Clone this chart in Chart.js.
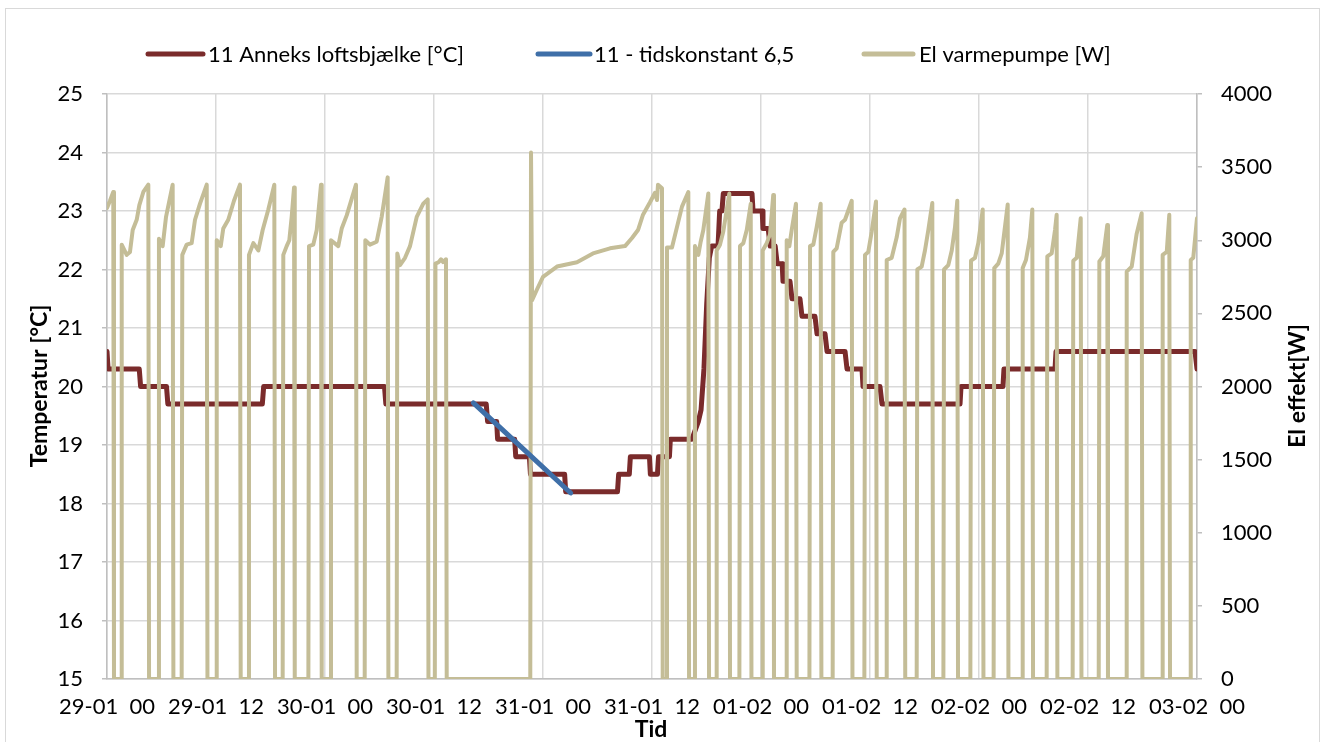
<!DOCTYPE html>
<html>
<head>
<meta charset="utf-8">
<script src="https://cdn.jsdelivr.net/npm/chart.js@4.4.1/dist/chart.umd.min.js"></script>
<style>
  html, body { margin: 0; padding: 0; background: #ffffff; }
  #wrap { position: relative; width: 1327px; height: 742px; overflow: hidden; background: #ffffff; }
  #frame { position: absolute; left: 5px; top: 8px; width: 1315px; height: 780px;
           border: 1.5px solid #d9d9d9; box-sizing: border-box; }
  #c { position: absolute; left: 0; top: 0; }
</style>
</head>
<body>
<div id="wrap">
  <div id="frame"></div>
  <canvas id="c" width="1327" height="742"></canvas>
</div>
<script>
// x axis: hours since 29-01 00:00, one labelled tick every 12 hours
const tickLabels = ["29-01  00", "29-01  12", "30-01  00", "30-01  12", "31-01  00",
                    "31-01  12", "01-02  00", "01-02  12", "02-02  00", "02-02  12", "03-02  00"];

// 11 Anneks loftsbjælke [°C]
const tempHours = [0, 0.12, 3.55, 3.70, 6.55, 6.70, 17.10, 17.25, 30.55, 30.70,
  41.75, 41.90, 42.90, 43.00, 44.88, 45.00, 46.50, 46.62, 50.38, 50.50,
  56.20, 56.33, 57.50, 57.62, 59.72, 59.82, 60.60, 60.72, 61.92, 62.02,
  64.40, 65.10, 65.40, 65.72, 66.02, 66.31, 66.57, 67.27, 67.45, 67.70,
  67.85, 71.01, 71.12, 72.13, 72.22, 72.79, 73.01, 73.56, 73.78, 74.33,
  74.42, 75.19, 75.41, 76.29, 76.51, 77.94, 78.17, 79.05, 79.27, 81.25,
  81.47, 83.12, 83.23, 85.10, 85.32, 93.91, 94.02, 98.64, 98.75, 104.37,
  104.48, 119.78, 120.0];
const tempValues = [20.6, 20.3, 20.3, 20.0, 20.0, 19.7, 19.7, 20.0, 20.0, 19.7,
  19.7, 19.4, 19.4, 19.1, 19.1, 18.8, 18.8, 18.5, 18.5, 18.2,
  18.2, 18.5, 18.5, 18.8, 18.8, 18.5, 18.5, 18.8, 18.8, 19.1,
  19.1, 19.4, 19.6, 20.3, 21.4, 22.2, 22.4, 22.4, 23.0, 23.0,
  23.3, 23.3, 23.0, 23.0, 22.7, 22.7, 22.4, 22.4, 22.1, 22.1,
  21.8, 21.8, 21.5, 21.5, 21.2, 21.2, 20.9, 20.9, 20.6, 20.6,
  20.3, 20.3, 20.0, 20.0, 19.7, 19.7, 20.0, 20.0, 20.3, 20.3,
  20.6, 20.6, 20.3];

// 11 - tidskonstant 6,5 (cooling curve)
const fitHours = [40.33, 45.70, 51.05];
const fitValues = [19.72, 18.95, 18.18];

// El varmepumpe [W]
const pumpHours = [
  0.00, 0.33, 0.69, 0.77,
  1.55, 1.62, 2.17, 2.53, 2.83, 3.27, 3.56, 4.00, 4.55, 4.63,
  5.65, 5.72, 6.13, 6.50, 7.23, 7.31,
  8.22, 8.29, 8.77, 9.32, 9.69, 10.24, 10.98, 11.06,
  12.01, 12.08, 12.52, 12.80, 13.35, 13.98, 14.64, 14.72,
  15.56, 15.63, 16.11, 16.66, 17.14, 17.76, 18.42, 18.50,
  19.34, 19.41, 19.78, 20.07, 20.33, 20.59, 20.67,
  22.17, 22.24, 22.71, 23.09, 23.56, 23.64,
  24.59, 24.66, 25.46, 25.84, 26.39, 27.41, 27.49,
  28.37, 28.44, 28.95, 29.69, 30.24, 30.90, 30.98,
  31.89, 31.96, 32.26, 32.81, 33.36, 34.10, 34.82, 35.31, 35.39,
  36.09, 36.16, 36.50, 36.77, 37.00, 37.32, 37.40,
  46.60, 46.68, 46.80, 47.31, 48.00, 49.54, 51.74, 53.50, 55.38, 57.03,
  57.80, 58.46, 59.01, 59.78, 60.33, 60.55, 60.66, 61.10, 61.18,
  61.58, 61.65, 62.20, 63.30, 64.00, 64.08,
  64.66, 64.73, 65.10, 65.36, 65.65, 66.20, 66.28,
  67.05, 67.12, 67.49, 67.85, 68.51, 68.59,
  69.62, 69.69, 70.05, 70.43, 70.87, 70.95,
  72.12, 72.19, 72.63, 72.99, 73.35, 73.43,
  74.76, 74.83, 75.12, 75.38, 75.85, 75.93,
  77.33, 77.40, 77.76, 78.13, 78.57, 78.65,
  79.89, 79.96, 80.33, 80.88, 81.25, 81.99, 82.07,
  83.38, 83.45, 83.81, 84.19, 84.66, 84.74,
  85.77, 85.84, 86.39, 86.94, 87.30, 87.80, 87.88,
  89.14, 89.21, 89.69, 90.05, 90.42, 90.86, 90.94,
  92.08, 92.15, 92.62, 93.00, 93.36, 93.61, 93.69,
  95.05, 95.12, 95.56, 95.92, 96.41, 96.49,
  97.61, 97.68, 98.12, 98.50, 99.16, 99.24,
  100.74, 100.81, 101.17, 101.61, 101.87, 101.95,
  103.45, 103.52, 104.00, 104.37, 104.55, 104.63,
  106.31, 106.38, 106.76, 107.20, 107.28,
  109.18, 109.25, 109.68, 110.12, 110.20,
  112.19, 112.26, 112.81, 113.36, 113.91, 113.99,
  116.15, 116.22, 116.67, 116.95, 117.03,
  119.24, 119.31, 119.59, 120.00];
const pumpWatts = [
  3220, 3270, 3330, 0,
  0, 2970, 2900, 2920, 3070, 3140, 3240, 3330, 3380, 0,
  0, 3010, 2960, 3160, 3380, 0,
  0, 2900, 2970, 2980, 3140, 3250, 3380, 0,
  0, 3000, 2960, 3080, 3140, 3270, 3380, 0,
  0, 2900, 2980, 2930, 3070, 3210, 3380, 0,
  0, 2900, 2960, 3000, 3160, 3360, 0,
  0, 2960, 2970, 3070, 3380, 0,
  0, 3000, 2960, 3080, 3170, 3380, 0,
  0, 3000, 2970, 2990, 3160, 3430, 0,
  0, 2910, 2830, 2880, 2960, 3160, 3250, 3280, 0,
  0, 2840, 2850, 2870, 2850, 2870, 0,
  0, 3600, 2590, 2660, 2750, 2820, 2850, 2910, 2945, 2960,
  3015, 3070, 3175, 3260, 3325, 3275, 3380, 3355, 0,
  0, 2950, 2950, 3230, 3330, 0,
  0, 2960, 2900, 2990, 3070, 3320, 0,
  0, 2930, 2970, 3060, 3320, 0,
  0, 2960, 2980, 3070, 3250, 0,
  0, 2930, 2980, 3040, 3310, 0,
  0, 3000, 2960, 3070, 3250, 0,
  0, 2960, 2970, 3090, 3250, 0,
  0, 2920, 2945, 3120, 3140, 3270, 0,
  0, 2900, 2920, 3060, 3265, 0,
  0, 2865, 2880, 3020, 3150, 3210, 0,
  0, 2800, 2820, 2930, 3070, 3255, 0,
  0, 2800, 2830, 2930, 3090, 3270, 0,
  0, 2860, 2880, 2980, 3210, 0,
  0, 2810, 2840, 2910, 3245, 0,
  0, 2810, 2865, 3020, 3210, 0,
  0, 2890, 2910, 3070, 3175, 0,
  0, 2860, 2880, 3150, 0,
  0, 2855, 2890, 3105, 0,
  0, 2785, 2820, 3045, 3185, 0,
  0, 2900, 2920, 3175, 0,
  0, 2865, 2880, 3150];

const pairs = (xs, ys) => xs.map((x, i) => ({ x: x, y: ys[i] }));

const FONT = 'Lato';
const FONT_SIZE = 22;
const TITLE_SIZE = 23;
const GRID = '#d9d9d9';
const AXIS = '#bfbfbf';

// legend row and axis titles, drawn on the canvas at fixed spots
const decorations = {
  id: 'decorations',
  afterDraw(chart) {
    const ctx = chart.ctx;
    const ds = chart.data.datasets;
    const items = [
      { ds: ds[0], x0: 148, x1: 203, tx: 208 },
      { ds: ds[1], x0: 538, x1: 590, tx: 594 },
      { ds: ds[2], x0: 864, x1: 913, tx: 919 }
    ];
    ctx.save();
    ctx.font = FONT_SIZE + 'px ' + FONT;
    ctx.textBaseline = 'middle';
    ctx.textAlign = 'left';
    ctx.lineCap = 'round';
    items.forEach(it => {
      ctx.strokeStyle = it.ds.borderColor;
      ctx.lineWidth = 5;
      ctx.beginPath();
      ctx.moveTo(it.x0, 54);
      ctx.lineTo(it.x1, 54);
      ctx.stroke();
      ctx.fillStyle = '#000000';
      ctx.fillText(it.ds.label, it.tx, 55);
    });

    ctx.font = 'bold ' + TITLE_SIZE + 'px ' + FONT;
    ctx.textAlign = 'center';
    ctx.textBaseline = 'alphabetic';
    ctx.save();
    ctx.translate(47, 386);
    ctx.rotate(-Math.PI / 2);
    ctx.fillText('Temperatur [°C]', 0, 0);
    ctx.restore();
    ctx.save();
    ctx.translate(1305, 386);
    ctx.rotate(-Math.PI / 2);
    ctx.fillText('El effekt[W]', 0, 0);
    ctx.restore();
    ctx.fillText('Tid', 651, 737);
    ctx.restore();
  }
};

new Chart(document.getElementById('c'), {
  type: 'line',
  data: {
    datasets: [
      {
        label: '11 Anneks loftsbjælke [°C]',
        data: pairs(tempHours, tempValues),
        yAxisID: 'y',
        borderColor: '#7a2b2b',
        backgroundColor: '#7a2b2b',
        borderWidth: 5,
        order: 3
      },
      {
        label: '11 - tidskonstant 6,5',
        data: pairs(fitHours, fitValues),
        yAxisID: 'y',
        borderColor: '#3f6fa8',
        backgroundColor: '#3f6fa8',
        borderWidth: 5,
        order: 1
      },
      {
        label: 'El varmepumpe [W]',
        data: pairs(pumpHours, pumpWatts),
        yAxisID: 'y1',
        borderColor: '#c4bd97',
        backgroundColor: '#c4bd97',
        borderWidth: 4,
        order: 2
      }
    ]
  },
  options: {
    responsive: false,
    animation: false,
    devicePixelRatio: 1,
    layout: { padding: { top: 94, left: 0, right: 0, bottom: 0 } },
    elements: {
      point: { radius: 0, hoverRadius: 0 },
      line: { tension: 0, fill: false, borderJoinStyle: 'round', borderCapStyle: 'round' }
    },
    plugins: {
      legend: { display: false },
      tooltip: { enabled: false }
    },
    scales: {
      x: {
        type: 'linear',
        min: 0,
        max: 120,
        afterBuildTicks: (s) => { s.ticks = tickLabels.map((_, i) => ({ value: i * 12 })); },
        ticks: {
          autoSkip: false,
          maxRotation: 0,
          padding: 15,
          color: '#000000',
          font: { family: FONT, size: FONT_SIZE },
          callback: (v, i) => tickLabels[i]
        },
        grid: { color: GRID, lineWidth: 1.5, drawTicks: false },
        border: { color: AXIS, width: 1.5 },
        afterFit: (s) => { s.height = 63; }
      },
      y: {
        position: 'left',
        min: 15,
        max: 25,
        ticks: {
          stepSize: 1,
          padding: 19,
          color: '#000000',
          font: { family: FONT, size: FONT_SIZE },
          callback: (v) => String(v)
        },
        grid: { color: GRID, lineWidth: 1.5, tickLength: 5, tickColor: AXIS },
        border: { color: AXIS, width: 1.5 },
        afterFit: (s) => { s.width = 107; }
      },
      y1: {
        position: 'right',
        min: 0,
        max: 4000,
        ticks: {
          stepSize: 500,
          padding: 19,
          color: '#000000',
          font: { family: FONT, size: FONT_SIZE },
          callback: (v) => String(v)
        },
        grid: { drawOnChartArea: false, tickLength: 5, tickColor: AXIS, lineWidth: 1.5 },
        border: { color: AXIS, width: 1.5 },
        afterFit: (s) => { s.width = 130; }
      }
    }
  },
  plugins: [decorations]
});
</script>
</body>
</html>
